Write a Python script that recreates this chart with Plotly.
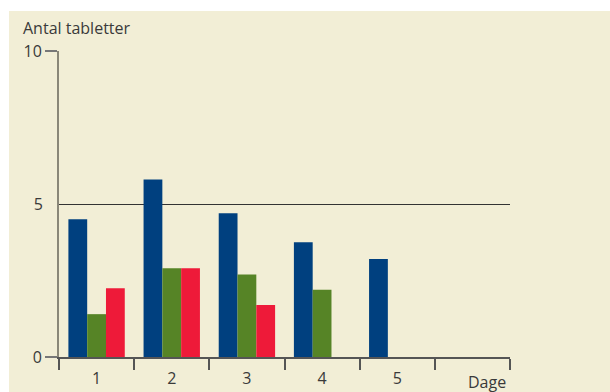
import plotly.graph_objects as go

categories = ["1", "2", "3", "4", "5", ""]
series_a = [4.5, 5.8, 4.7, 3.75, 3.2, None]   # blue
series_b = [1.4, 2.9, 2.7, 2.2, None, None]   # green
series_c = [2.25, 2.9, 1.7, None, None, None] # red
y_tick_main = [0, 10]
y_tick_ref = [5]

colors = ["#00407F", "#568426", "#EE1A39"]

W, H = 610, 392
L, R, T, B = 59, 100, 51, 35
pw, ph = W - L - R, H - T - B

def px_x(p):
    return (p - L) / pw

def px_y(p):
    return (H - B - p) / ph

fig = go.Figure()
for vals, c in zip([series_a, series_b, series_c], colors):
    fig.add_trace(go.Bar(x=categories, y=vals, marker=dict(color=c, line=dict(width=0)),
                         showlegend=False, hoverinfo="skip"))
fig.add_trace(go.Scatter(x=[categories[0]], y=[None], yaxis="y2", showlegend=False,
                         hoverinfo="skip", mode="markers"))

font = dict(family="Open Sans", size=16, color="#3a3a3a")

fig.update_layout(
    width=W, height=H,
    margin=dict(l=L, r=R, t=T, b=B, pad=0, autoexpand=False),
    paper_bgcolor="white",
    plot_bgcolor="rgba(0,0,0,0)",
    barmode="group",
    bargap=0.25,
    bargroupgap=0,
    font=font,
    xaxis=dict(
        type="category", tickson="boundaries", ticks="outside", ticklen=11,
        tickcolor="#555555", tickwidth=1.5, showline=True, linecolor="#555555",
        linewidth=1.5, showgrid=False, zeroline=False, tickfont=font, fixedrange=True,
        automargin=False, ticklabelstandoff=6,
    ),
    yaxis=dict(
        range=[0, 10], tickvals=y_tick_main, ticks="outside", ticklen=12,
        tickcolor="#777777", tickwidth=1.5, showline=True, linecolor="#8a8778",
        linewidth=2, showgrid=False, zeroline=False, tickfont=font, automargin=False,
    ),
    yaxis2=dict(
        range=[0, 10], overlaying="y", side="left", tickvals=y_tick_ref,
        ticks="outside", ticklen=12, tickcolor="rgba(0,0,0,0)", showline=False,
        showgrid=True, gridcolor="#333333", gridwidth=1, zeroline=False, tickfont=font,
        automargin=False,
    ),
    shapes=[dict(type="rect", xref="paper", yref="paper", layer="below",
                 x0=px_x(9), x1=px_x(W + 5), y0=px_y(H + 5), y1=px_y(11),
                 fillcolor="#F2EED6", line=dict(width=0))],
    annotations=[
        dict(text="Antal tabletter", xref="paper", yref="paper", x=px_x(21), y=px_y(28),
             xanchor="left", yanchor="middle", showarrow=False, font=font),
        dict(text="Dage", xref="paper", yref="paper", x=px_x(508), y=px_y(382),
             xanchor="right", yanchor="middle", showarrow=False, font=font),
    ],
)

fig.write_html("out.html")
